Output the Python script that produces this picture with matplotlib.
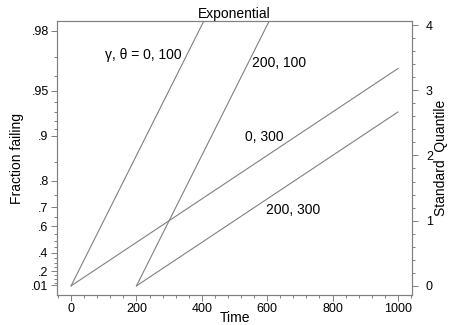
import numpy as np
import matplotlib
matplotlib.use("Agg")
import matplotlib.pyplot as plt
from matplotlib.ticker import MultipleLocator, FixedLocator

plt.rcParams['font.family'] = ['Liberation Sans', 'DejaVu Sans']

# Exponential lines: standard quantile = (t - gamma) / theta
gammas = [0, 200, 0, 200]
thetas = [100, 100, 300, 300]
t_end = 1000

labels = ["\u03b3, \u03b8 = 0, 100", "200, 100", "0, 300", "200, 300"]
label_x = [104, 553, 532, 596]
label_q = [3.54, 3.42, 2.28, 1.165]

prob_major = [.01, .2, .4, .6, .7, .8, .9, .95, .98]
prob_major_text = [".01", ".2", ".4", ".6", ".7", ".8", ".9", ".95", ".98"]
prob_minor = [.05, .1, .15, .25, .3, .35, .45, .5, .55, .65, .75, .85,
              .91, .92, .93, .94, .96, .97]

time_ticks = [0, 200, 400, 600, 800, 1000]
quantile_ticks = [0, 1, 2, 3, 4]

gray = '#808080'

fig = plt.figure(figsize=(4.49, 3.25), dpi=100)
ax = fig.add_axes([0.127, 0.0923, 0.7906, 0.8427])

for g, th in zip(gammas, thetas):
    t = np.array([g, t_end])
    ax.plot(t, (t - g) / th, color=gray, lw=0.8)

for txt, x, q in zip(labels, label_x, label_q):
    ax.text(x, q, txt, ha='left', va='center', fontsize=10)

ax.set_xlim(-43, 1043)
ax.set_ylim(-0.14, 4.06)

def prob_to_q(p):
    return -np.log(1 - np.asarray(p))

ax.yaxis.set_major_locator(FixedLocator(prob_to_q(prob_major)))
ax.set_yticklabels(prob_major_text)
ax.yaxis.set_minor_locator(FixedLocator(prob_to_q(prob_minor)))

ax.xaxis.set_major_locator(FixedLocator(time_ticks))
ax.xaxis.set_minor_locator(MultipleLocator(40))

ax.set_xlabel("Time", fontsize=10, labelpad=-3)
ax.set_ylabel("Fraction failing", fontsize=10, labelpad=5)
ax.set_title("Exponential", fontsize=10, pad=1.5)

ax2 = ax.twinx()
ax2.set_ylim(ax.get_ylim())
ax2.yaxis.set_major_locator(FixedLocator(quantile_ticks))
ax2.yaxis.set_minor_locator(MultipleLocator(0.2))
ax2.set_ylabel("Standard  Quantile", fontsize=10, rotation=90, labelpad=1)

for a in (ax, ax2):
    for s in a.spines.values():
        s.set_color(gray)
        s.set_linewidth(0.8)
    a.tick_params(which='major', length=4, width=0.7, color=gray,
                  labelsize=9, pad=2)
    a.tick_params(which='minor', length=2.5, width=0.7, color=gray)

ax.tick_params(axis='y', which='both', right=False)
ax2.tick_params(axis='y', which='both', left=False)
ax2.tick_params(axis='y', which='major', pad=6)

fig.savefig("out.png", dpi=100)
